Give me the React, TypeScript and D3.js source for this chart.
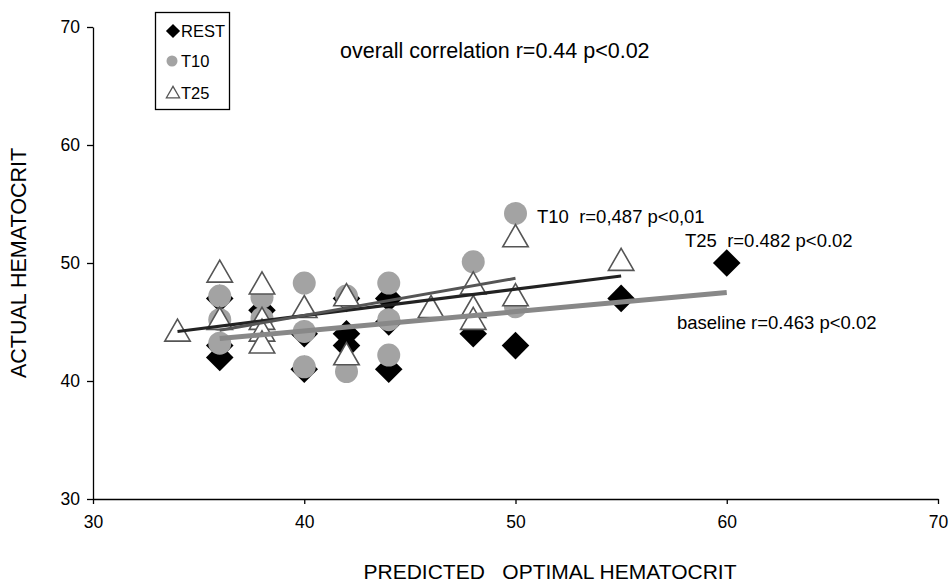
import { useEffect, useRef } from 'react';
import * as d3 from 'd3';

const width = 952;
const height = 585;
const margin = { top: 27, right: 14, bottom: 86, left: 93 };

// series values
const restX = [36, 36, 36, 38, 40, 40, 42, 42, 42, 44, 44, 44, 48, 50, 55, 60];
const restY = [47, 43, 42, 46, 44, 41, 47, 44, 43, 47, 45, 41, 44, 43, 47, 50];

const t10X = [36, 36, 36, 38, 38, 40, 40, 40, 42, 42, 44, 44, 44, 48, 50, 50];
const t10Y = [47.2, 45.2, 43.2, 47.1, 45.3, 48.3, 44.2, 41.2, 47.2, 40.8, 48.3, 45.2, 42.2, 50.1, 54.2, 46.3];

const t25X = [34, 36, 36, 38, 38, 38, 38, 40, 42, 42, 46, 48, 48, 48, 50, 50, 55];
const t25Y = [44, 49, 45, 48, 45, 44, 43, 46, 47, 42, 46, 48, 46, 45, 52, 47, 50];

// regression line ends [x0, y0, x1, y1]
const baselineFit = [36, 43.6, 60, 47.5];
const t10Fit = [36, 44.3, 50, 48.7];
const t25Fit = [34, 44.2, 55, 48.9];

const xTicks = [30, 40, 50, 60, 70];
const yTicks = [30, 40, 50, 60, 70];

const font = 'Liberation Sans, Arial, sans-serif';

function App() {
  const ref = useRef<SVGSVGElement>(null);

  useEffect(() => {
    const svg = d3.select(ref.current);
    svg.selectAll('*').remove();

    const x = d3.scaleLinear().domain([30, 70]).range([margin.left, width - margin.right]);
    const y = d3.scaleLinear().domain([30, 70]).range([height - margin.bottom, margin.top]);

    // axes
    const xAxis = svg
      .append('g')
      .attr('transform', `translate(0,${y(30)})`)
      .call(d3.axisBottom(x).tickValues(xTicks).tickSize(5).tickSizeOuter(0));
    xAxis.select('.domain').attr('stroke', '#000').attr('stroke-width', 1.3);
    xAxis.selectAll('.tick line').attr('stroke', '#000').attr('stroke-width', 1.3);
    xAxis
      .selectAll('.tick text')
      .attr('font-family', font)
      .attr('font-size', 17.5)
      .attr('fill', '#000')
      .attr('dy', '1.2em');

    const yAxis = svg
      .append('g')
      .attr('transform', `translate(${x(30)},0)`)
      .call(d3.axisLeft(y).tickValues(yTicks).tickSize(6).tickSizeOuter(0));
    yAxis.select('.domain').attr('stroke', '#000').attr('stroke-width', 1.3);
    yAxis.selectAll('.tick line').attr('stroke', '#000').attr('stroke-width', 1.3);
    yAxis
      .selectAll('.tick text')
      .attr('font-family', font)
      .attr('font-size', 17.5)
      .attr('fill', '#000')
      .attr('x', -13);

    const diamond = d3.symbol().type(d3.symbolSquare).size(380);
    const tri = d3.symbol().type(d3.symbolTriangle).size(280);

    // REST
    svg
      .append('g')
      .selectAll('path')
      .data(restX.map((v, i) => [v, restY[i]]))
      .join('path')
      .attr('d', diamond)
      .attr('transform', (d) => `translate(${x(d[0])},${y(d[1])}) rotate(45)`)
      .attr('fill', '#000');

    // T10
    svg
      .append('g')
      .selectAll('circle')
      .data(t10X.map((v, i) => [v, t10Y[i]]))
      .join('circle')
      .attr('cx', (d) => x(d[0]))
      .attr('cy', (d) => y(d[1]))
      .attr('r', 11.5)
      .attr('fill', '#a3a3a3');

    // T25
    svg
      .append('g')
      .selectAll('path')
      .data(t25X.map((v, i) => [v, t25Y[i]]))
      .join('path')
      .attr('d', tri)
      .attr('transform', (d) => `translate(${x(d[0])},${y(d[1])})`)
      .attr('fill', '#fff')
      .attr('stroke', '#555')
      .attr('stroke-width', 1.6);

    // fit lines
    const fits = [
      { f: t25Fit, c: '#222', w: 3 },
      { f: t10Fit, c: '#555', w: 3 },
      { f: baselineFit, c: '#888', w: 5 },
    ];
    svg
      .append('g')
      .selectAll('line')
      .data(fits)
      .join('line')
      .attr('x1', (d) => x(d.f[0]))
      .attr('y1', (d) => y(d.f[1]))
      .attr('x2', (d) => x(d.f[2]))
      .attr('y2', (d) => y(d.f[3]))
      .attr('stroke', (d) => d.c)
      .attr('stroke-width', (d) => d.w);

    // annotations
    const notes = [
      { t: 'overall correlation r=0.44 p<0.02', x: 340, y: 58, s: 21.5 },
      { t: 'T10  r=0,487 p<0,01', x: 537, y: 223, s: 18.5 },
      { t: 'T25  r=0.482 p<0.02', x: 685, y: 247, s: 18.5 },
      { t: 'baseline r=0.463 p<0.02', x: 677, y: 329, s: 18.5 },
    ];
    svg
      .append('g')
      .selectAll('text')
      .data(notes)
      .join('text')
      .attr('x', (d) => d.x)
      .attr('y', (d) => d.y)
      .attr('font-family', font)
      .attr('font-size', (d) => d.s)
      .attr('fill', '#000')
      .style('white-space', 'pre')
      .text((d) => d.t);

    // axis titles
    svg
      .append('text')
      .attr('transform', `translate(26,${y(50)}) rotate(-90)`)
      .attr('text-anchor', 'middle')
      .attr('font-family', font)
      .attr('font-size', 21.5)
      .text('ACTUAL HEMATOCRIT');
    svg
      .append('text')
      .attr('x', 550)
      .attr('y', 579)
      .attr('text-anchor', 'middle')
      .attr('font-family', font)
      .attr('font-size', 21)
      .style('white-space', 'pre')
      .text('PREDICTED   OPTIMAL HEMATOCRIT');

    // legend
    const lg = svg.append('g');
    lg.append('rect')
      .attr('x', 155.5)
      .attr('y', 12.5)
      .attr('width', 74)
      .attr('height', 97)
      .attr('fill', '#fff')
      .attr('stroke', '#000')
      .attr('stroke-width', 1.3);
    lg.append('path')
      .attr('d', d3.symbol().type(d3.symbolSquare).size(100))
      .attr('transform', 'translate(173,31) rotate(45)')
      .attr('fill', '#000');
    lg.append('circle').attr('cx', 172).attr('cy', 61).attr('r', 5.5).attr('fill', '#a3a3a3');
    lg.append('path')
      .attr('d', d3.symbol().type(d3.symbolTriangle).size(75))
      .attr('transform', 'translate(173,94)')
      .attr('fill', '#fff')
      .attr('stroke', '#555')
      .attr('stroke-width', 1.3);
    const labels = ['REST', 'T10', 'T25'];
    lg.selectAll('text.lab')
      .data(labels)
      .join('text')
      .attr('class', 'lab')
      .attr('x', 181)
      .attr('y', (d, i) => [37, 67, 99][i])
      .attr('font-family', font)
      .attr('font-size', 16.5)
      .text((d) => d);
  }, []);

  return (
    <svg
      ref={ref}
      width={width}
      height={height}
      style={{ position: 'absolute', left: 0, top: 0, background: '#fff' }}
    />
  );
}

export default App;
